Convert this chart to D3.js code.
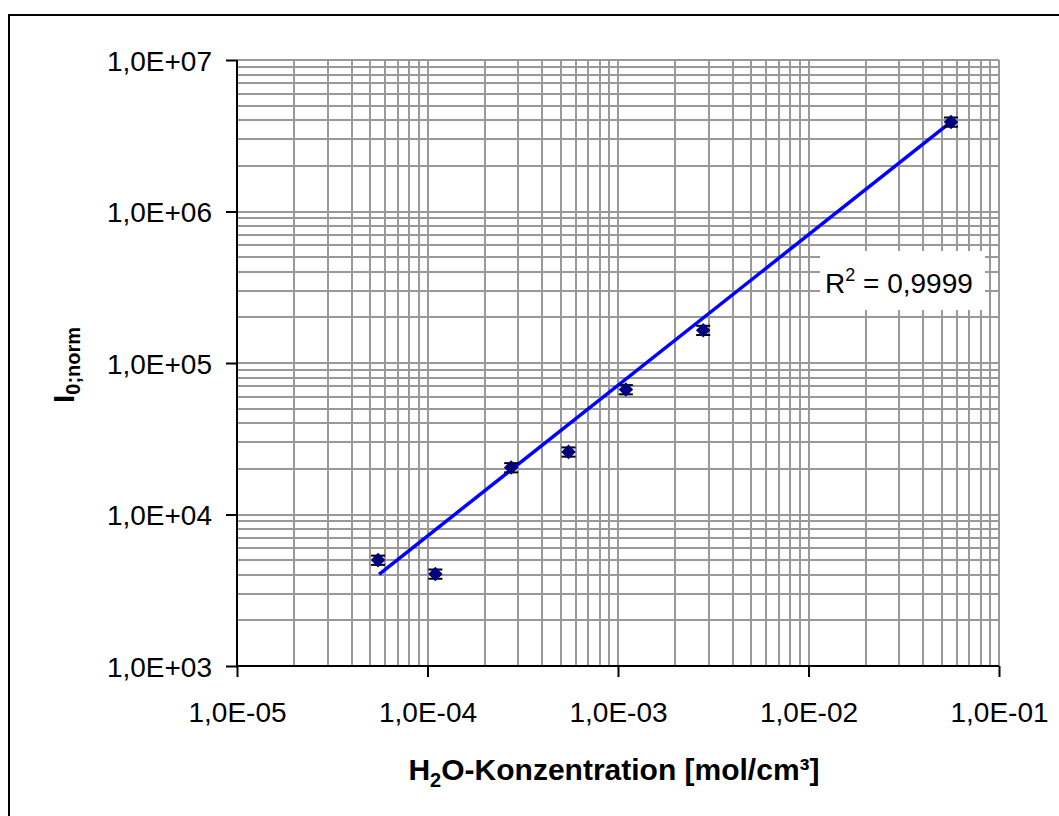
<!DOCTYPE html>
<html><head><meta charset="utf-8">
<script src="https://cdn.jsdelivr.net/npm/d3@7"></script>
<style>
html,body{margin:0;padding:0;background:#fff;}
svg{display:block;font-family:"Liberation Sans",Arial,sans-serif;}
</style></head>
<body><svg id="c" width="1059" height="816"></svg>
<script>
// data
const concentration = [5.5e-5, 1.1e-4, 2.75e-4, 5.5e-4, 1.1e-3, 2.8e-3, 5.6e-2];
const intensity = [5000, 4050, 20400, 25900, 66800, 164500, 3.9e6];
const relError = [0.07, 0.07, 0.07, 0.07, 0.07, 0.07, 0.07];
const trendX = [5.57e-5, 5.6e-2];
const trendY = [4030, 3.9e6];
const xTicks = [1e-5, 1e-4, 1e-3, 1e-2, 1e-1];
const yTicks = [1e3, 1e4, 1e5, 1e6, 1e7];
const r2Text = "0,9999";

const svg = d3.select("#c");
const L = 237, R = 999, T = 60, B = 666;
const x = d3.scaleLog().domain([1e-5, 1e-1]).range([L, R]);
const y = d3.scaleLog().domain([1e3, 1e7]).range([B, T]);

// outer frame (extends beyond view)
svg.append("rect").attr("x", 9).attr("y", 15).attr("width", 1200).attr("height", 900)
  .attr("fill", "#fff").attr("stroke", "#000").attr("stroke-width", 2);

const fmt = v => {
  const e = Math.round(Math.log10(v));
  return "1,0E" + (e >= 0 ? "+" : "-") + String(Math.abs(e)).padStart(2, "0");
};

// grid values
const gridX = [], gridY = [];
for (let e = -5; e < -1; e++) for (let k = 1; k <= 9; k++) gridX.push(k * Math.pow(10, e));
gridX.push(1e-1);
for (let e = 3; e < 7; e++) for (let k = 1; k <= 9; k++) gridY.push(k * Math.pow(10, e));
gridY.push(1e7);

const g = svg.append("g");
g.selectAll("line.gx").data(gridX).join("line")
  .attr("x1", d => Math.round(x(d))).attr("x2", d => Math.round(x(d)))
  .attr("y1", T).attr("y2", B).attr("stroke", "#999").attr("stroke-width", 2);
g.selectAll("line.gy").data(gridY).join("line")
  .attr("y1", d => Math.round(y(d))).attr("y2", d => Math.round(y(d)))
  .attr("x1", L).attr("x2", R).attr("stroke", "#999").attr("stroke-width", 2);

// axes
const xAxis = d3.axisBottom(x).tickValues(xTicks).tickFormat(fmt).tickSize(11).tickPadding(0);
const yAxis = d3.axisLeft(y).tickValues(yTicks).tickFormat(fmt).tickSize(11).tickPadding(0);
const gx = svg.append("g").attr("transform", `translate(0,${B})`).call(xAxis);
const gy = svg.append("g").attr("transform", `translate(${L},0)`).call(yAxis);
[gx, gy].forEach(a => {
  a.select(".domain").attr("stroke", "#000").attr("stroke-width", 2);
  a.selectAll(".tick line").attr("stroke", "#000").attr("stroke-width", 2);
  a.selectAll(".tick text").attr("font-size", 28).attr("fill", "#000")
    .attr("font-family", "Liberation Sans, Arial, sans-serif");
});
gx.select(".domain").attr("d", `M${L},0H${R}`);
gy.select(".domain").attr("d", `M0,${B}V${T}`);
gx.selectAll(".tick text").attr("y", 56).attr("dy", 0);
gy.selectAll(".tick text").attr("x", -25).attr("dy", 10);

// trendline
svg.append("path")
  .datum(trendX.map((d, i) => [d, trendY[i]]))
  .attr("d", d3.line().x(d => x(d[0])).y(d => y(d[1])))
  .attr("fill", "none").attr("stroke", "#0000ff").attr("stroke-width", 3.5);

// error caps + markers
const pts = concentration.map((c, i) => ({c, v: intensity[i], e: relError[i]}));
const pg = svg.append("g");
pts.forEach(p => {
  const cx = x(p.c);
  [p.v * (1 + p.e), p.v * (1 - p.e)].forEach(val => {
    pg.append("line").attr("x1", cx - 7).attr("x2", cx + 7)
      .attr("y1", y(val)).attr("y2", y(val)).attr("stroke", "#000").attr("stroke-width", 2);
  });
});
pg.selectAll("path.m").data(pts).join("path")
  .attr("d", d3.symbol().type(d3.symbolDiamond2).size(135))
  .attr("transform", d => `translate(${x(d.c)},${y(d.v)})`)
  .attr("fill", "#000080");

// R² label
svg.append("rect").attr("x", 820).attr("y", 251).attr("width", 165).attr("height", 59).attr("fill", "#fff");
const rt = svg.append("text").attr("x", 825).attr("y", 293).attr("font-size", 28).attr("fill", "#000");
rt.append("tspan").text("R");
rt.append("tspan").attr("font-size", 18).attr("dy", -12).text("2");
rt.append("tspan").attr("dy", 12).text(" = " + r2Text);

// axis titles
const xt = svg.append("text").attr("x", 614).attr("y", 780).attr("text-anchor", "middle")
  .attr("font-size", 30).attr("font-weight", "bold").attr("fill", "#000");
xt.append("tspan").text("H");
xt.append("tspan").attr("font-size", 20).attr("dy", 7).text("2");
xt.append("tspan").attr("dy", -7).text("O-Konzentration [mol/cm³]");

const yt = svg.append("text").attr("transform", "translate(74,365) rotate(-90)").attr("text-anchor", "middle")
  .attr("font-size", 30).attr("font-weight", "bold").attr("fill", "#000");
yt.append("tspan").text("I");
yt.append("tspan").attr("font-size", 20).attr("dy", 6).text("0;norm");
</script></body></html>
